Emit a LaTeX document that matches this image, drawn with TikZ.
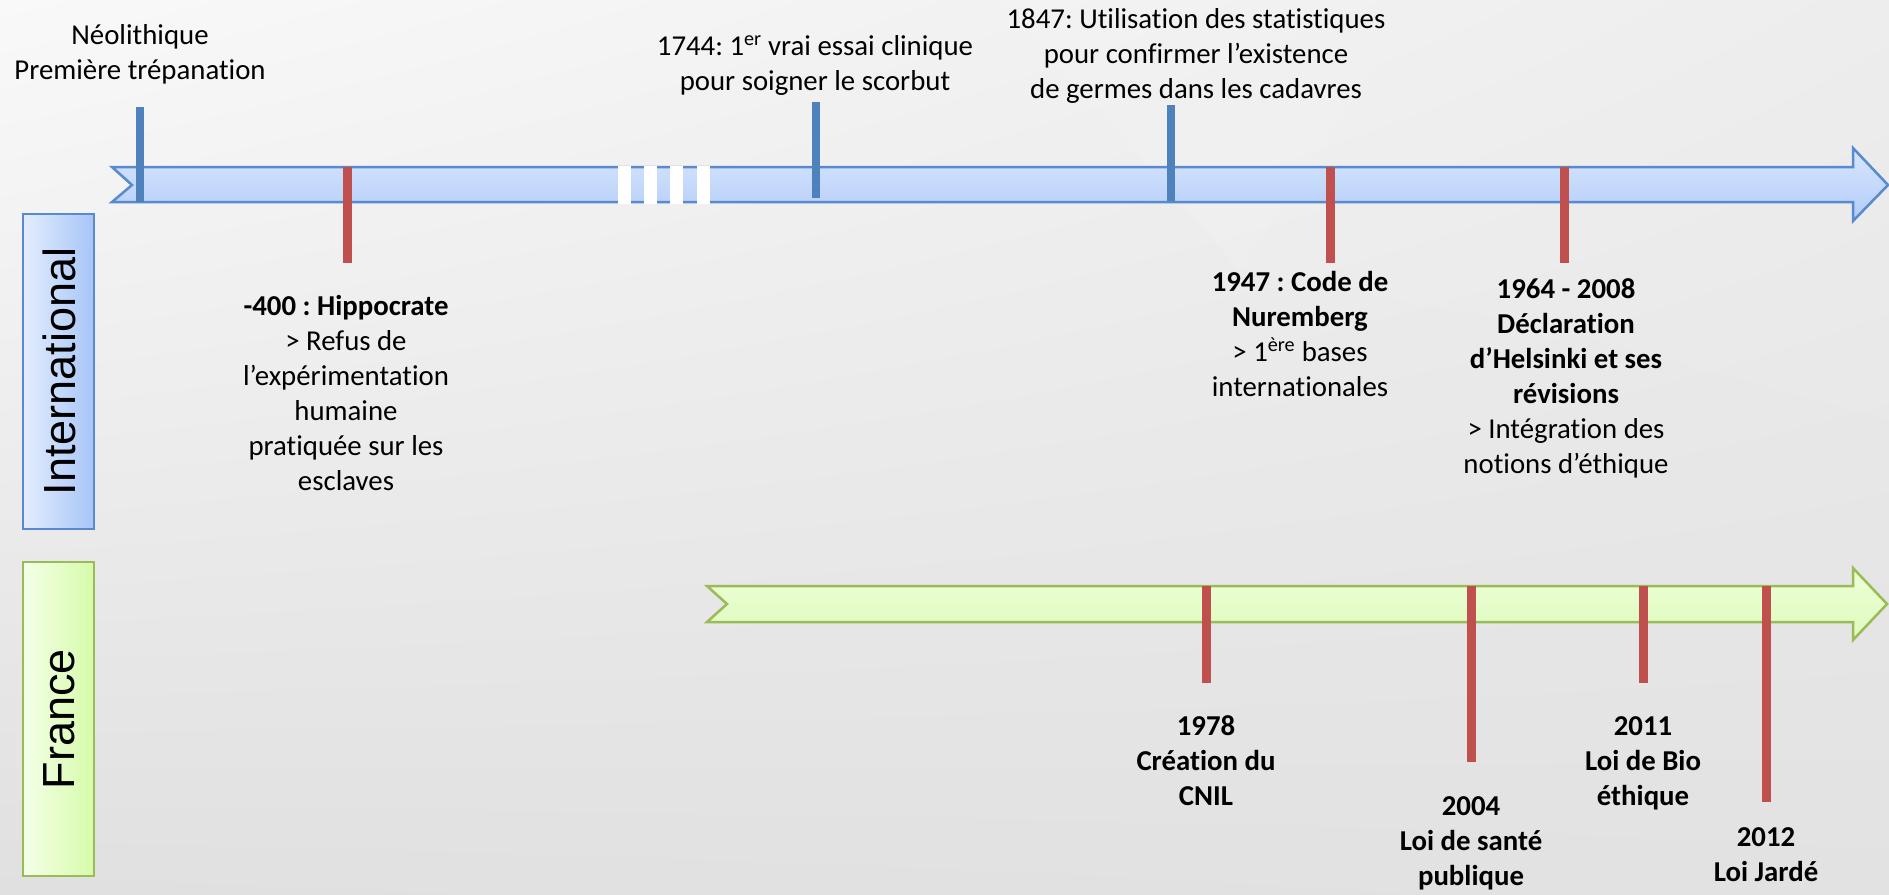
\documentclass[tikz,border=0pt]{standalone}
\usepackage{fontspec}
\usetikzlibrary{shadings}
\setmainfont{Carlito}[RawFeature={-liga;-calt;-clig}]
\newfontfamily\arialfont{Liberation Sans}
\frenchspacing
\definecolor{tickblue}{RGB}{79,129,189}
\definecolor{tickred}{RGB}{192,80,77}
\definecolor{arrblueline}{RGB}{88,138,208}
\definecolor{arrbluetop}{RGB}{216,230,254}
\definecolor{arrbluebot}{RGB}{178,204,247}
\definecolor{arrgreenline}{RGB}{155,187,89}
\definecolor{arrgreentop}{RGB}{238,255,214}
\definecolor{arrgreenbot}{RGB}{222,250,190}
\definecolor{boxblueL}{RGB}{228,237,254}
\definecolor{boxblueR}{RGB}{166,197,247}
\definecolor{boxgreenL}{RGB}{244,255,232}
\definecolor{boxgreenR}{RGB}{214,251,170}
\definecolor{bgUL}{RGB}{249,249,249}
\definecolor{bgUR}{RGB}{236,236,236}
\definecolor{bgLL}{RGB}{224,224,224}
\definecolor{bgLR}{RGB}{226,226,226}
\begin{document}
\begin{tikzpicture}[x=1pt,y=-1pt,
  txt/.style={anchor=base, align=center, inner sep=0pt, font={\fontsize{28.8}{35}\selectfont\frenchspacing}},
  btxt/.style={txt, font={\fontsize{28.8}{35}\selectfont\bfseries\frenchspacing}},
  vlabel/.style={rotate=90, inner sep=0pt, font={\arialfont\fontsize{45}{50}\selectfont}},
  bluetick/.style={draw=tickblue, line width=8.5pt},
  redtick/.style={draw=tickred, line width=9pt},
  bluearrow/.style={draw=arrblueline, line width=2.5pt, line join=miter, top color=arrbluetop, bottom color=arrbluebot},
  greenarrow/.style={draw=arrgreenline, line width=2.5pt, line join=miter, top color=arrgreentop, bottom color=arrgreenbot},
  gap/.style={fill=white, draw=none}
]
\useasboundingbox (0,0) rectangle (1889,894);
% background
\shade[upper left=bgUL, upper right=bgUR, lower left=bgLL, lower right=bgLR]
  (0,0) rectangle (1889,894);
\fill[white, opacity=0.12] (1000,0) -- (1420,0) -- (1240,270) -- cycle;
\fill[white, opacity=0.09] (1240,270) -- (1420,0) -- (1700,0) -- (1560,330) -- cycle;
\fill[white, opacity=0.08] (1700,0) -- (1889,0) -- (1889,420) -- (1560,330) -- cycle;

% side boxes
\shade[left color=boxblueL, right color=boxblueR] (23,214) rectangle (94,529);
\draw[arrblueline, line width=2.5pt] (23,214) rectangle (94,529);
\node[vlabel] (intl) at (59,371.5) {International};
\shade[left color=boxgreenL, right color=boxgreenR] (23,562) rectangle (94,876);
\draw[arrgreenline, line width=2.5pt] (23,562) rectangle (94,876);
\node[vlabel] (fr) at (59,719) {France};

% international arrow
\path[bluearrow] (112,167) -- (1853,167) -- (1853,148) -- (1888,185) -- (1853,221) -- (1853,202) -- (112,202) -- (132,185) -- cycle;
\fill[gap] (618,166) rectangle (631,204);
\fill[gap] (644,166) rectangle (657,204);
\fill[gap] (670,166) rectangle (683,204);
\fill[gap] (697,166) rectangle (710,204);

% france arrow
\path[greenarrow] (707,586) -- (1853,586) -- (1853,568) -- (1887,604) -- (1853,640) -- (1853,622) -- (707,622) -- (727,604) -- cycle;

% international ticks
\coordinate (neoA) at (140,107); \coordinate (neoB) at (140,202);
\coordinate (hipA) at (347,167); \coordinate (hipB) at (347,263);
\coordinate (essA) at (816,102); \coordinate (essB) at (816,198);
\coordinate (staA) at (1171,105); \coordinate (staB) at (1171,201);
\coordinate (nurA) at (1330,167); \coordinate (nurB) at (1330,263);
\coordinate (helA) at (1564,167); \coordinate (helB) at (1564,263);
\draw[bluetick] (neoA) -- (neoB);
\draw[redtick] (hipA) -- (hipB);
\draw[bluetick] (essA) -- (essB);
\draw[bluetick] (staA) -- (staB);
\draw[redtick] (nurA) -- (nurB);
\draw[redtick] (helA) -- (helB);

% france ticks
\coordinate (cnilA) at (1206,586); \coordinate (cnilB) at (1206,683);
\coordinate (santA) at (1471,586); \coordinate (santB) at (1471,762);
\coordinate (bioA) at (1643,586); \coordinate (bioB) at (1643,683);
\coordinate (jarA) at (1766,586); \coordinate (jarB) at (1766,802);
\draw[redtick] (cnilA) -- (cnilB);
\draw[redtick] (santA) -- (santB);
\draw[redtick] (bioA) -- (bioB);
\draw[redtick] (jarA) -- (jarB);

% texts (anchor = baseline of last line)
\node[txt] (neo) at (140,79) {Néolithique\\Première trépanation};
\node[txt] (ess) at (815,90) {1744: 1\textsuperscript{er} vrai essai clinique\\pour soigner le scorbut};
\node[txt] (sta) at (1196,98) {1847: Utilisation des statistiques\\pour confirmer l’existence\\de germes dans les cadavres};
\node[txt] (hip) at (346,490) {\textbf{-400 : Hippocrate}\\> Refus de\\l’expérimentation\\humaine\\pratiquée sur les\\esclaves};
\node[txt] (nur) at (1300,396) {\textbf{1947 : Code de}\\\textbf{Nuremberg}\\> 1\textsuperscript{ère} bases\\internationales};
\node[txt] (hel) at (1566,473) {\textbf{1964 - 2008}\\\textbf{Déclaration}\\\textbf{d’Helsinki et ses}\\\textbf{révisions}\\> Intégration des\\notions d’éthique};
\node[btxt] (cnil) at (1206,805) {1978\\Création du\\CNIL};
\node[btxt] (sant) at (1471,885) {2004\\Loi de santé\\publique};
\node[btxt] (bio) at (1643,805) {2011\\Loi de Bio\\éthique};
\node[btxt] (jar) at (1766,881) {2012\\Loi Jardé};
\end{tikzpicture}
\end{document}
